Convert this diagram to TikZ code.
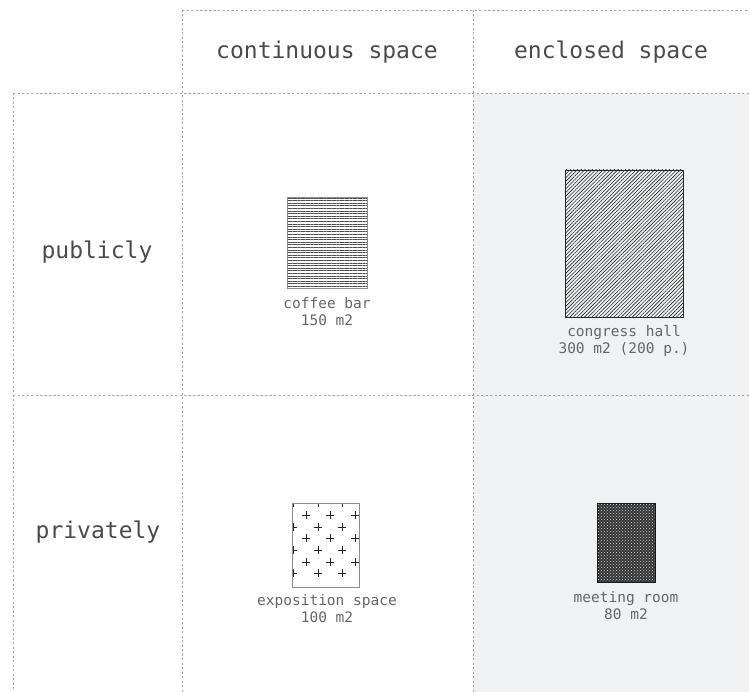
\documentclass[tikz,border=0pt]{standalone}
\usepackage{fontspec}
\usetikzlibrary{patterns,patterns.meta}
\newfontfamily\monofam{DejaVu Sans Mono}
\definecolor{gridgray}{HTML}{A0A0A0}
\definecolor{bggray}{HTML}{F0F1F3}
\definecolor{headtxt}{HTML}{4A4A4A}
\definecolor{labtxt}{HTML}{666666}
\tikzset{
  gridline/.style={draw=gridgray, line width=0.8pt, dash pattern=on 2pt off 2.5pt},
  header/.style={font=\monofam\fontsize{23}{26}\selectfont, text=headtxt, inner sep=0pt},
  label/.style={font=\monofam\fontsize{14.5}{17.5}\selectfont, text=labtxt, align=center, inner sep=0pt},
  plusmark/.style={draw=black!85, line width=0.6pt}
}
\begin{document}
\begin{tikzpicture}[x=1pt,y=-1pt]
\useasboundingbox (0,0) rectangle (749,692);
% shaded enclosed column
\fill[bggray] (473,93) rectangle (749,692);
% grid
\draw[gridline] (182,10) -- (749,10);
\draw[gridline] (13,93) -- (749,93);
\draw[gridline] (13,395) -- (749,395);
\draw[gridline] (13,93) -- (13,692);
\draw[gridline] (182,10) -- (182,692);
\draw[gridline] (473,10) -- (473,692);
% headers
\node[header] (hcont) at (327,52) {continuous space};
\node[header] (hencl) at (611,52) {enclosed space};
\node[header] (hpub) at (97,252) {publicly};
\node[header] (hpriv) at (98,532) {privately};
% coffee bar
\path[draw=black!45, line width=0.7pt, pattern={Lines[angle=0,distance=2.6pt,line width=0.7pt]}, pattern color=black!70] (287,197) rectangle (367,288);
\node[label, anchor=north] (coffee) at (327,297) {coffee bar\\150 m2};
% congress hall
\path[draw=black!85, line width=0.8pt, pattern={Lines[angle=45,distance=2.6pt,line width=0.6pt]}, pattern color=black!85] (565,170) rectangle (683,317);
\node[label, anchor=north] (congress) at (624,325) {congress hall\\300 m2 (200 p.)};
% exposition space
\fill[white] (292,503) rectangle (359,587);
\begin{scope}
\clip (292,503) rectangle (359,587);
\foreach \px in {293,318,342} \foreach \py in {503,527,550,573} {
  \draw[plusmark] (\px-4,\py) -- (\px+4,\py) (\px,\py-4) -- (\px,\py+4);
}
\foreach \px in {306,330,355} \foreach \py in {515,538,562} {
  \draw[plusmark] (\px-4,\py) -- (\px+4,\py) (\px,\py-4) -- (\px,\py+4);
}
\end{scope}
\draw[draw=black!45, line width=0.7pt] (292,503) rectangle (359,587);
\node[label, anchor=north] (expo) at (327,594) {exposition space\\100 m2};
% meeting room
\fill[black!80] (597,503) rectangle (655,582);
\path[pattern=crosshatch dots, pattern color=white!85!black] (597,503) rectangle (655,582);
\draw[black!90, line width=0.8pt] (597,503) rectangle (655,582);
\node[label, anchor=north] (meeting) at (626,591) {meeting room\\80 m2};
\end{tikzpicture}
\end{document}
